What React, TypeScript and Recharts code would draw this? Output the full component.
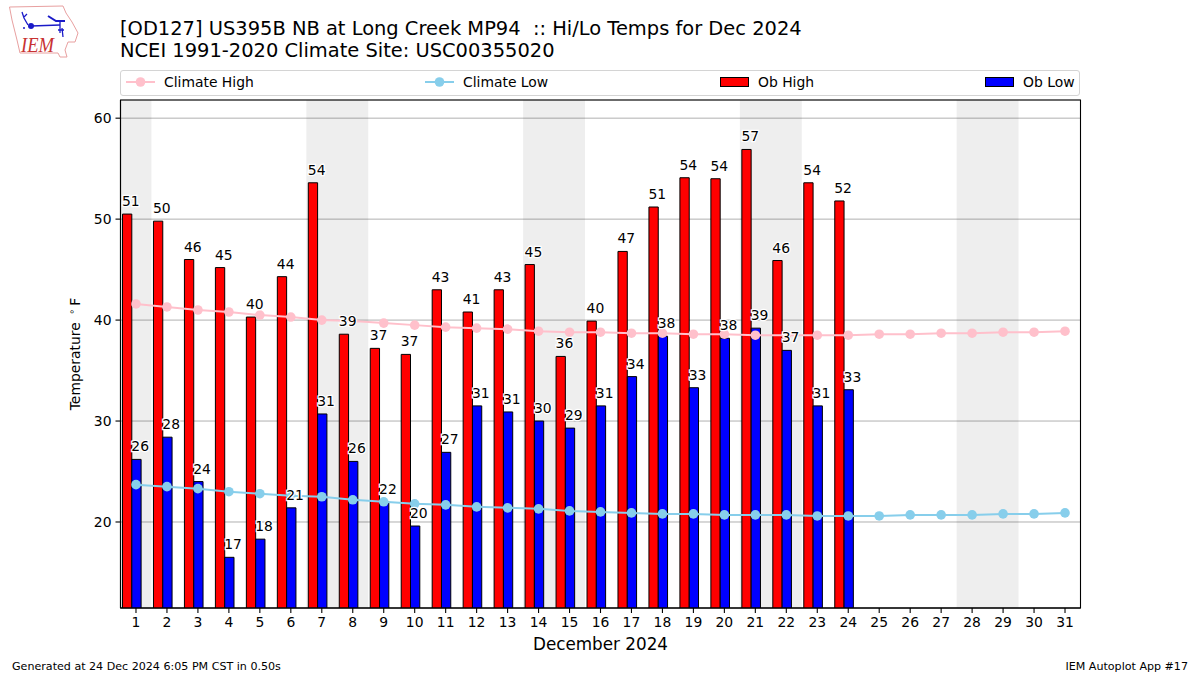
import { Bar, CartesianGrid, ComposedChart, LabelList, Legend, Line, ReferenceArea, XAxis, YAxis } from "recharts";

const days = [1, 2, 3, 4, 5, 6, 7, 8, 9, 10, 11, 12, 13, 14, 15, 16, 17, 18, 19, 20, 21, 22, 23, 24, 25, 26, 27, 28, 29, 30, 31];
const obHigh = [50.5, 49.8, 46.0, 45.2, 40.3, 44.3, 53.6, 38.6, 37.2, 36.6, 43.0, 40.8, 43.0, 45.5, 36.4, 39.9, 46.8, 51.2, 54.1, 54.0, 56.9, 45.9, 53.6, 51.8];
const obLow = [26.2, 28.4, 24.0, 16.5, 18.3, 21.4, 30.7, 26.0, 22.0, 19.6, 26.9, 31.5, 30.9, 30.0, 29.3, 31.5, 34.4, 38.4, 33.3, 38.2, 39.2, 37.0, 31.5, 33.1];
const highLabels = [51, 50, 46, 45, 40, 44, 54, 39, 37, 37, 43, 41, 43, 45, 36, 40, 47, 51, 54, 54, 57, 46, 54, 52];
const lowLabels = [26, 28, 24, 17, 18, 21, 31, 26, 22, 20, 27, 31, 31, 30, 29, 31, 34, 38, 33, 38, 39, 37, 31, 33];
const climateHigh = [41.6, 41.3, 41.0, 40.8, 40.5, 40.3, 40.0, 39.9, 39.7, 39.5, 39.3, 39.2, 39.1, 38.9, 38.8, 38.8, 38.7, 38.7, 38.6, 38.6, 38.5, 38.5, 38.5, 38.5, 38.6, 38.6, 38.7, 38.7, 38.8, 38.8, 38.9];
const climateLow = [23.7, 23.5, 23.3, 23.0, 22.8, 22.6, 22.5, 22.2, 22.0, 21.8, 21.7, 21.5, 21.4, 21.3, 21.1, 21.0, 20.9, 20.8, 20.8, 20.7, 20.7, 20.7, 20.6, 20.6, 20.6, 20.7, 20.7, 20.7, 20.8, 20.8, 20.9];
const weekends = [[0.5, 1.5], [6.5, 8.5], [13.5, 15.5], [20.5, 22.5], [27.5, 29.5]];
const yTicks = [20, 30, 40, 50, 60];

const FONT = "DejaVu Sans";
const BAR_WIDTH = 9.3;
const legendLeft = [5, 304, 599, 864];

const data = days.map((day, i) => ({
  day,
  climateHigh: climateHigh[i],
  climateLow: climateLow[i],
  obHigh: obHigh[i],
  obLow: obLow[i],
  highLabel: highLabels[i],
  lowLabel: lowLabels[i],
}));

// labels hang off invisible lines so they stay above the climate markers
function BarLabel(props: any) {
  const { x, y, value, shift } = props;
  if (value === undefined || value === null) return null;
  return (
    <text
      x={x + shift}
      y={y - 8}
      textAnchor="start"
      fontFamily={FONT}
      fontSize={13.9}
      fill="#000"
      stroke="#fff"
      strokeWidth={2.5}
      style={{ paintOrder: "stroke" }}
    >
      {value}
    </text>
  );
}

function TempLabel() {
  return (
    <text transform="rotate(-90 80 354)" x={80} y={354} textAnchor="middle" fontFamily={FONT} fontSize={13.9} fill="#000">
      Temperature{" "}
      <tspan fontSize={9.7} dx={3} dy={-5}>∘</tspan>
      <tspan dx={3} dy={5}>F</tspan>
    </text>
  );
}

function LegendBox({ payload }: any) {
  const items = (payload || []).filter((entry: any) => entry.type !== "none");
  return (
    <div
      style={{
        position: "relative",
        width: 958,
        height: 24,
        border: "1px solid #d4d4d4",
        borderRadius: 3,
        background: "#fff",
        fontFamily: FONT,
        fontSize: 13.9,
        color: "#000",
      }}
    >
      {items.map((entry: any, i: number) => {
        const isLine = entry.type === "line";
        return (
          <div key={entry.value} style={{ position: "absolute", left: legendLeft[i], top: -1.5, height: 24, display: "flex", alignItems: "center" }}>
            <svg width={30} height={24} style={{ display: "block" }}>
              {isLine ? (
                <g>
                  <line x1={0} x2={29} y1={12} y2={12} stroke={entry.color} strokeWidth={2} />
                  <circle cx={14.5} cy={12} r={4.8} fill={entry.color} />
                </g>
              ) : (
                <rect x={0.5} y={7.5} width={28} height={9} fill={entry.color} stroke="#000" />
              )}
            </svg>
            <span style={{ marginLeft: 8, whiteSpace: "nowrap" }}>{entry.value}</span>
          </div>
        );
      })}
    </div>
  );
}

function Logo() {
  return (
    <svg width={90} height={62} style={{ position: "absolute", left: 0, top: 0 }}>
      <path
        d="M9.5 7 L63 6 L66 13 L72 22 L78 33 L75 42 L68 42 L65 50 L67 57 L60 57 L58 53 L20 53 L17 40 L12 20 Z"
        fill="#fff"
        stroke="#e8a0a0"
        strokeWidth={1}
      />
      <g stroke="#1a1ac8" fill="none" strokeWidth={1.3}>
        <path d="M31 26 L60 25" strokeWidth={1.6} />
        <path d="M48 16 L56 21 L65 21" strokeWidth={2} />
        <path d="M60 22 L60 33" />
        <path d="M58 30 L64 30 M62 28 L63 37" />
        <path d="M28 25 L24 18 L22 12 M24 17 L27 14" />
        <circle cx={31} cy={26} r={3} fill="#1a1ac8" stroke="none" />
        <circle cx={24} cy={28} r={1} fill="#1a1ac8" stroke="none" />
      </g>
      <text x={21} y={52} fontFamily="Liberation Serif" fontStyle="italic" fontSize={22} fill="#c83232" textLength={33} lengthAdjust="spacingAndGlyphs">
        IEM
      </text>
    </svg>
  );
}

export default function App() {
  return (
    <div style={{ position: "absolute", left: 0, top: 0, width: 1200, height: 675, background: "#fff", overflow: "hidden", fontFamily: FONT }}>
      <ComposedChart
        width={1200}
        height={675}
        data={data}
        margin={{ top: 100, right: 119.5, bottom: 0, left: 0.5 }}
        barSize={BAR_WIDTH}
        barGap={0}
        barCategoryGap={0}
      >
        <CartesianGrid horizontal vertical={false} stroke="#b0b0b0" strokeWidth={1} />
        {weekends.map(([from, to]) => (
          <ReferenceArea key={from} x1={from} x2={to} fill="#000" fillOpacity={0.067} stroke="none" />
        ))}
        <XAxis
          dataKey="day"
          type="number"
          domain={[0.5, 31.5]}
          ticks={days}
          interval={0}
          allowDataOverflow
          axisLine={{ stroke: "#000", strokeWidth: 1.1 }}
          tickLine={{ stroke: "#000", strokeWidth: 1.1 }}
          tickSize={5}
          tickMargin={4}
          tick={{ fontFamily: FONT, fontSize: 13.9, fill: "#000" }}
          height={67}
          label={{ value: "December 2024", position: "insideBottom", offset: 25, fontFamily: FONT, fontSize: 16.8, fill: "#000" }}
        />
        <YAxis
          type="number"
          domain={[11.48, 61.8]}
          ticks={yTicks}
          allowDataOverflow
          axisLine={{ stroke: "#000", strokeWidth: 1.1 }}
          tickLine={{ stroke: "#000", strokeWidth: 1.1 }}
          tickSize={5}
          tickMargin={4}
          tick={{ fontFamily: FONT, fontSize: 13.9, fill: "#000" }}
          width={120}
          label={{ content: <TempLabel /> }}
        />
        <Legend verticalAlign="middle" layout="horizontal" align="center" wrapperStyle={{ left: 120, top: 70, width: 960, bottom: "auto" }} content={<LegendBox />} />
        <Bar dataKey="obHigh" name="Ob High" fill="#ff0000" stroke="#000" strokeWidth={1} legendType="rect" isAnimationActive={false} />
        <Bar dataKey="obLow" name="Ob Low" fill="#0000ff" stroke="#000" strokeWidth={1} legendType="rect" isAnimationActive={false} />
        <Bar dataKey="spacer" legendType="none" isAnimationActive={false} />
        <Line dataKey="climateHigh" name="Climate High" stroke="#ffc0cb" strokeWidth={2} dot={{ r: 4.8, fill: "#ffc0cb", stroke: "none" }} legendType="line" isAnimationActive={false} />
        <Line dataKey="climateLow" name="Climate Low" stroke="#87ceeb" strokeWidth={2} dot={{ r: 4.8, fill: "#87ceeb", stroke: "none" }} legendType="line" isAnimationActive={false} />
        <Line dataKey="obHigh" name="high labels" stroke="none" dot={false} activeDot={false} legendType="none" isAnimationActive={false}>
          <LabelList dataKey="highLabel" content={<BarLabel shift={-1.5 * BAR_WIDTH} />} />
        </Line>
        <Line dataKey="obLow" name="low labels" stroke="none" dot={false} activeDot={false} legendType="none" isAnimationActive={false}>
          <LabelList dataKey="lowLabel" content={<BarLabel shift={-0.5 * BAR_WIDTH} />} />
        </Line>
        <ReferenceArea x1={0.5} x2={31.5} fill="none" stroke="#000" strokeWidth={1.1} />
      </ComposedChart>

      <Logo />
      <div style={{ position: "absolute", left: 120, top: 18, fontSize: 19.45, lineHeight: "21.5px", color: "#000", whiteSpace: "pre" }}>
        {"[OD127] US395B NB at Long Creek MP94  :: Hi/Lo Temps for Dec 2024\nNCEI 1991-2020 Climate Site: USC00355020"}
      </div>
      <div style={{ position: "absolute", left: 12, top: 660, fontSize: 11.1, color: "#000" }}>Generated at 24 Dec 2024 6:05 PM CST in 0.50s</div>
      <div style={{ position: "absolute", right: 12, top: 660, fontSize: 11.1, color: "#000" }}>IEM Autoplot App #17</div>
    </div>
  );
}
